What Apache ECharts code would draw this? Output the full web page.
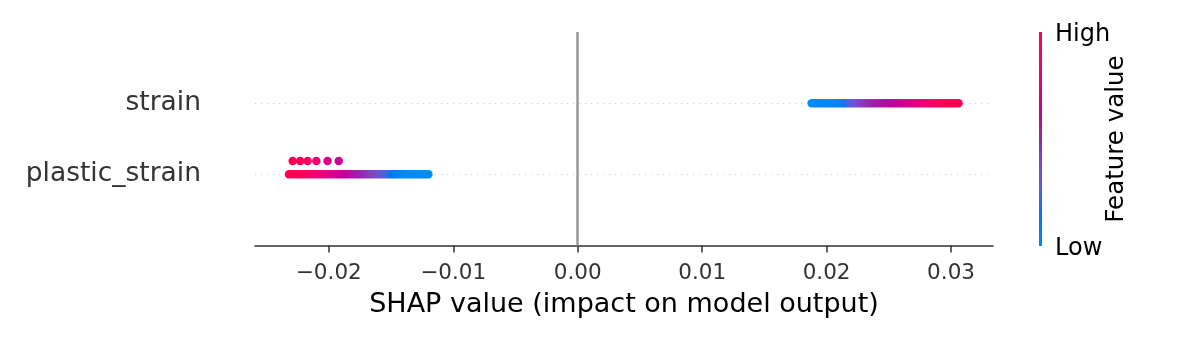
<!DOCTYPE html>
<html>
<head>
<meta charset="utf-8">
<script src="https://cdn.jsdelivr.net/npm/echarts@6/dist/echarts.min.js"></script>
<style>
  html, body { margin: 0; padding: 0; background: #fff; }
  #chart { width: 1200px; height: 345px; }
</style>
</head>
<body>
<div id="chart"></div>
<script>
// ---------------- DATA ----------------
// features, bottom row first
const features = ['plastic_strain', 'strain'];
const xTicks = [-0.02, -0.01, 0.00, 0.01, 0.02, 0.03];

// strain: SHAP value + normalised feature value (0 = low, 1 = high)
const strainShap = [0.0188, 0.0190, 0.0192, 0.0194, 0.0196, 0.0198, 0.0200, 0.0202, 0.0204, 0.0206,
    0.0208, 0.0210, 0.0212, 0.0214, 0.0216, 0.0218, 0.0220, 0.0222, 0.0224, 0.0226,
    0.0228, 0.0230, 0.0232, 0.0234, 0.0236, 0.0238, 0.0240, 0.0242, 0.0244, 0.0246,
    0.0248, 0.0250, 0.0252, 0.0254, 0.0256, 0.0258, 0.0260, 0.0262, 0.0264, 0.0266,
    0.0268, 0.0270, 0.0272, 0.0274, 0.0276, 0.0278, 0.0280, 0.0282, 0.0284, 0.0286,
    0.0288, 0.0290, 0.0292, 0.0294, 0.0296, 0.0298, 0.0300, 0.0302, 0.0304, 0.0306];
const strainValue = [0.00, 0.00, 0.00, 0.01, 0.01, 0.01, 0.01, 0.02, 0.02, 0.02,
    0.03, 0.04, 0.06, 0.10, 0.16, 0.22, 0.27, 0.31, 0.35, 0.38,
    0.40, 0.42, 0.44, 0.46, 0.48, 0.50, 0.52, 0.535, 0.55, 0.565,
    0.58, 0.595, 0.61, 0.625, 0.64, 0.65, 0.66, 0.68, 0.70, 0.715,
    0.73, 0.745, 0.76, 0.78, 0.80, 0.82, 0.85, 0.875, 0.90, 0.92,
    0.95, 0.97, 0.98, 0.99, 1.00, 1.00, 1.00, 1.00, 1.00, 1.00];

// plastic_strain: main strip
const plasticShap = [-0.0232, -0.0230, -0.0228, -0.0226, -0.0224, -0.0222, -0.0220, -0.0218, -0.0216, -0.0214,
    -0.0212, -0.0210, -0.0208, -0.0206, -0.0204, -0.0202, -0.0200, -0.0198, -0.0196, -0.0194,
    -0.0192, -0.0190, -0.0188, -0.0186, -0.0184, -0.0182, -0.0180, -0.0178, -0.0176, -0.0174,
    -0.0172, -0.0170, -0.0168, -0.0166, -0.0164, -0.0162, -0.0160, -0.0158, -0.0156, -0.0154,
    -0.0152, -0.0150, -0.0148, -0.0146, -0.0144, -0.0142, -0.0140, -0.0138, -0.0136, -0.0134,
    -0.0132, -0.0130, -0.0128, -0.0126, -0.0124, -0.0122, -0.0120];
const plasticValue = [1.00, 1.00, 1.00, 1.00, 0.99, 0.98, 0.96, 0.94, 0.92, 0.90,
    0.88, 0.86, 0.84, 0.82, 0.80, 0.78, 0.76, 0.74, 0.72, 0.70,
    0.68, 0.66, 0.64, 0.62, 0.60, 0.58, 0.56, 0.54, 0.52, 0.50,
    0.48, 0.46, 0.44, 0.42, 0.40, 0.38, 0.36, 0.33, 0.30, 0.26,
    0.22, 0.17, 0.13, 0.10, 0.07, 0.05, 0.03, 0.02, 0.01, 0.01,
    0.00, 0.00, 0.00, 0.00, 0.00, 0.00, 0.00];

// plastic_strain: points pushed up by the swarm
const plasticStackShap = [-0.0229, -0.0223, -0.0217, -0.0210, -0.0201, -0.0192];
const plasticStackValue = [1.00, 0.98, 0.92, 0.85, 0.75, 0.66];

// shap red_blue colormap (low -> high)
const cmap = ['#008bfb', '#0078f3', '#4b63e3', '#7d49cb', '#9b24ad', '#c2009c', '#e00086', '#f5006d', '#ff0051'];

// ---------------- BUILD ----------------
const STACK = 0.187;
let points = [];
strainShap.forEach((v, i) => points.push([v, 1, strainValue[i]]));
plasticShap.forEach((v, i) => points.push([v, 0, plasticValue[i]]));
plasticStackShap.forEach((v, i) => points.push([v, STACK, plasticStackValue[i]]));

const FONT = 'DejaVu Sans';
let chart = echarts.init(document.getElementById('chart'), null, { renderer: 'canvas' });

chart.setOption({
    animation: false,
    backgroundColor: '#fff',
    grid: { left: 255, right: 207, top: 32, bottom: 99.5, containLabel: false, outerBoundsMode: 'none' },
    xAxis: {
        type: 'value',
        min: -0.02593,
        max: 0.03337,
        splitLine: { show: false },
        axisLine: { show: true, onZero: false, lineStyle: { color: '#333', width: 1.5 } },
        axisTick: { show: true, customValues: xTicks, length: 7, lineStyle: { color: '#333', width: 1.5 } },
        axisLabel: {
            customValues: xTicks,
            margin: 17,
            fontFamily: FONT,
            fontSize: 21.5,
            color: '#333',
            formatter: v => (v < 0 ? '\u2212' : '') + Math.abs(v).toFixed(2)
        },
        name: 'SHAP value (impact on model output)',
        nameLocation: 'middle',
        nameGap: 46,
        nameTextStyle: { fontFamily: FONT, fontSize: 27, color: '#000' }
    },
    yAxis: {
        type: 'value',
        min: -1,
        max: 2,
        splitLine: { show: false },
        axisLine: { show: false },
        axisTick: { show: false },
        axisLabel: {
            customValues: [0, 1],
            margin: 54,
            padding: [5, 0, 0, 0],
            fontFamily: FONT,
            fontSize: 26.5,
            color: '#333',
            formatter: v => features[Math.round(v)]
        }
    },
    visualMap: {
        type: 'continuous',
        show: false,
        dimension: 2,
        min: 0,
        max: 1,
        seriesIndex: 0,
        inRange: { color: cmap }
    },
    series: [{
        type: 'scatter',
        data: points,
        symbol: 'circle',
        symbolSize: 8.5,
        itemStyle: { opacity: 1 },
        z: 3,
        markLine: {
            silent: true,
            symbol: 'none',
            label: { show: false },
            z: 1,
            data: [
                { xAxis: 0, lineStyle: { color: '#999', width: 2.5, type: 'solid' } },
                { yAxis: 0, lineStyle: { color: '#ccc', width: 1, type: [1, 5] } },
                { yAxis: 1, lineStyle: { color: '#ccc', width: 1, type: [1, 5] } }
            ]
        }
    }],
    graphic: [
        {
            type: 'rect',
            shape: { x: 1039, y: 32, width: 3, height: 214 },
            style: {
                fill: new echarts.graphic.LinearGradient(0, 1, 0, 0,
                    cmap.map((c, i) => ({ offset: i / (cmap.length - 1), color: c })))
            }
        },
        {
            type: 'text', x: 1055, y: 35,
            style: { text: 'High', fontFamily: FONT, fontSize: 24, fill: '#000', align: 'left', verticalAlign: 'middle' }
        },
        {
            type: 'text', x: 1055, y: 249,
            style: { text: 'Low', fontFamily: FONT, fontSize: 24, fill: '#000', align: 'left', verticalAlign: 'middle' }
        },
        {
            type: 'text', x: 1117, y: 139, rotation: Math.PI / 2,
            style: { text: 'Feature value', fontFamily: FONT, fontSize: 24.5, fill: '#000', align: 'center', verticalAlign: 'middle' }
        }
    ]
});
</script>
</body>
</html>
